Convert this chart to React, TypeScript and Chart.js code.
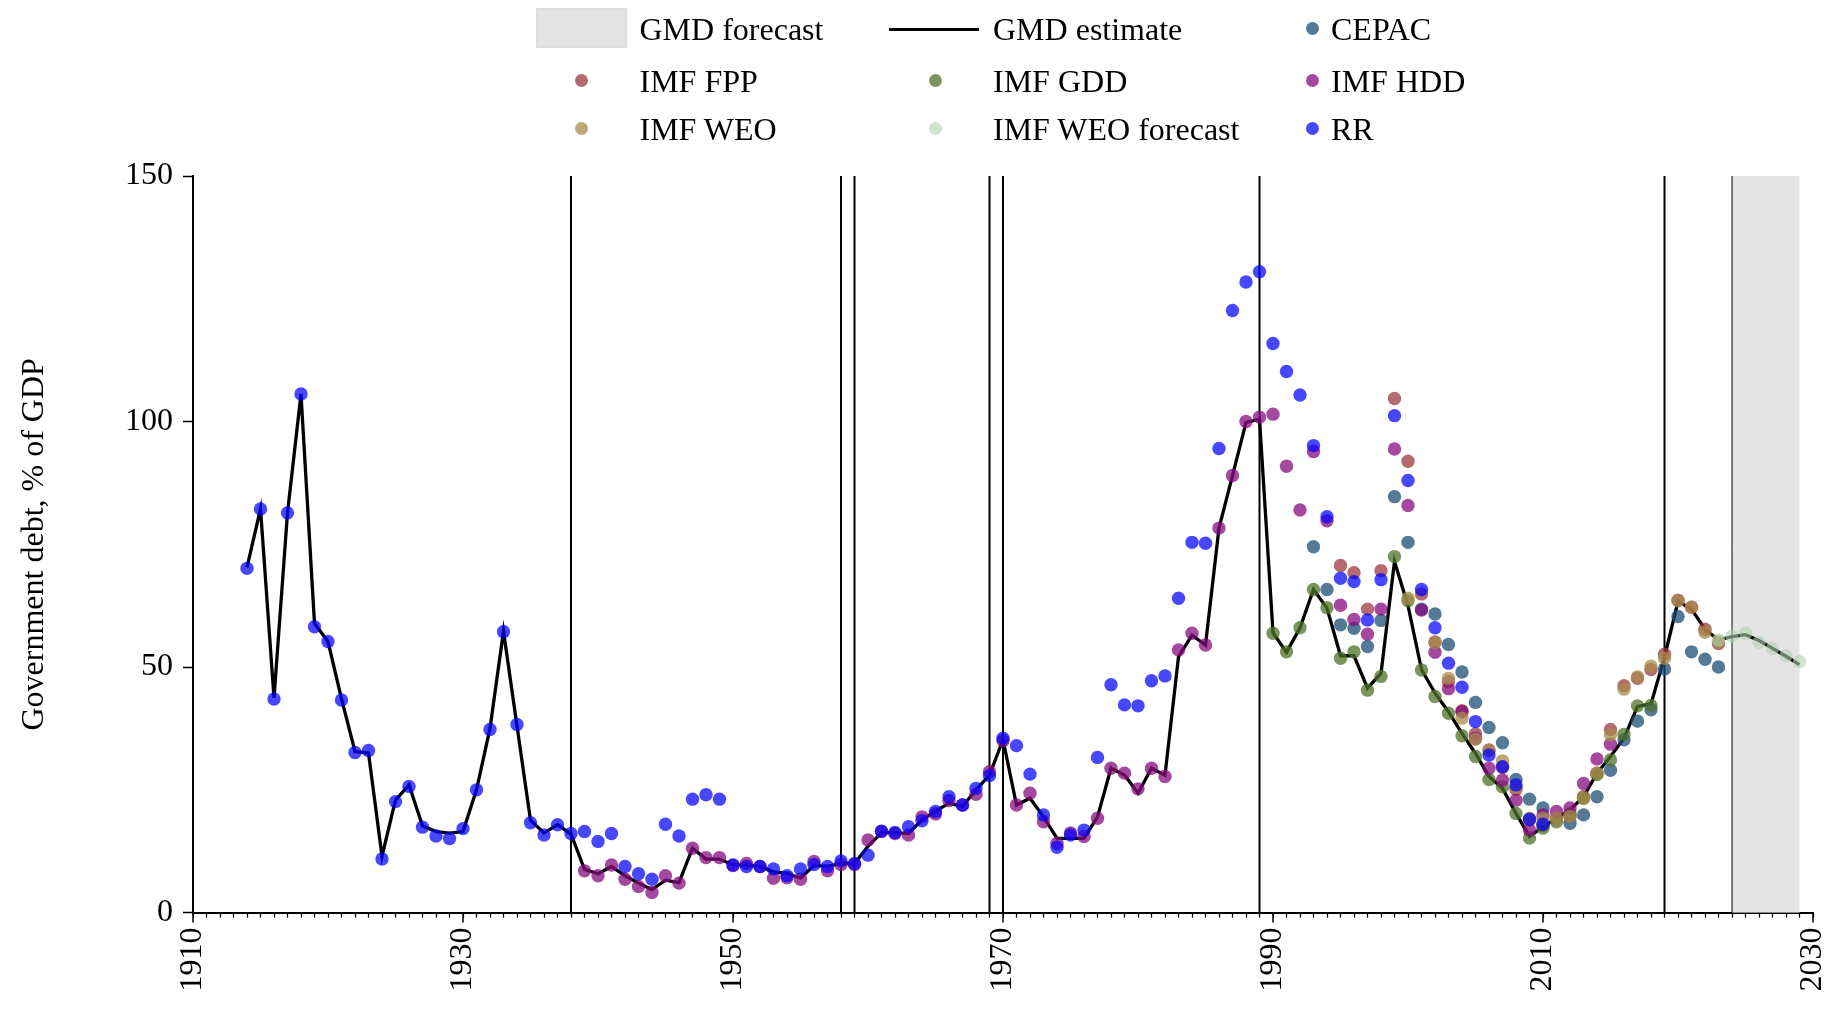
import React, { useEffect, useRef } from 'react';
import { Chart, registerables } from 'chart.js';

Chart.register(...registerables);

const FONT = "'Liberation Serif', 'Times New Roman', serif";

// GMD estimate (line), 1914-2029
const gmdStart = 1914;
const gmdValues = [
  70.3, 82.2, 43.7, 81.4, 105.6, 58.9, 55.2, 43.5, 32.8, 32.5,
  11.5, 22.9, 26.0, 17.7, 16.5, 16.2, 16.5, 25.0, 37.5, 57.3,
  38.0, 18.8, 16.2, 17.9, 16.0, 8.8, 7.9, 9.4, 7.5, 6.0,
  4.7, 6.6, 6.1, 13.1, 10.9, 10.9, 9.7, 9.7, 9.4, 8.3,
  8.0, 7.0, 9.6, 9.4, 10.0, 10.0, 13.5, 16.3, 16.3, 16.1,
  18.9, 20.6, 22.3, 21.6, 25.0, 28.0, 35.2, 21.9, 23.3, 19.5,
  15.1, 15.1, 15.1, 19.5, 29.4, 28.0, 24.3, 29.4, 28.0, 52.1,
  56.5, 54.5, 78.3, 89.0, 99.8, 100.5, 57.0, 53.0, 58.0, 65.8,
  62.0, 52.3, 52.3, 45.7, 48.7, 71.5, 62.5, 49.5, 44.7, 40.9,
  36.5, 32.4, 27.7, 25.3, 20.2, 15.5, 17.5, 19.2, 20.9, 23.6,
  28.4, 31.8, 35.5, 42.0, 42.5, 52.0, 63.4, 61.8, 57.7, 55.5,
  56.2, 56.6, 55.4, 53.8, 52.2, 50.5,
];

// CEPAC, 1993-2023
const cepacStart = 1993;
const cepacValues = [
  74.5, 65.8, 58.6, 57.9, 54.2, 59.5, 84.7, 75.4, 61.8, 60.8,
  54.6, 49.0, 42.8, 37.7, 34.6, 27.1, 23.1, 21.3, null, 18.2,
  19.9, 23.6, 29.0, 35.2, 39.0, 41.3, 49.6, 60.3, 53.1, 51.6, 50.0,
];

// IMF FPP, 1995-2023
const fppStart = 1995;
const fppValues = [
  70.7, 69.2, 61.8, 69.6, 104.7, 91.9, 64.9, 55.1, 47.0, 41.1,
  36.4, 33.1, 29.6, 25.1, 18.9, 17.8, 19.2, 19.6, 23.6, 28.4,
  37.3, 46.2, 47.7, 49.5, 52.6, 63.6, 62.2, 57.7, 54.8,
];

// IMF GDD, 1990-2018
const gddStart = 1990;
const gddValues = [
  56.9, 53.1, 58.0, 65.8, 62.1, 51.8, 53.1, 45.3, 48.1, 72.5,
  63.5, 49.4, 44.0, 40.6, 36.0, 31.8, 27.1, 25.6, 20.2, 15.2,
  17.2, 18.5, 20.2, 23.3, 28.1, 31.1, 36.3, 42.1, 42.2,
];

// IMF HDD, 1939-2015
const hddStart = 1939;
const hddValues = [
  8.5, 7.5, 9.7, 6.8, 5.3, 4.1, 7.5, 6.0, 13.1, 11.2,
  11.2, 9.6, 10.0, 9.4, 7.0, 7.1, 6.8, 10.4, 8.5, 9.8,
  9.8, 14.8, 16.5, 16.1, 15.8, 19.5, 20.1, 22.8, 21.9, 24.1,
  28.7, 35.0, 21.9, 24.3, 18.5, 14.1, 16.2, 15.5, 19.2, 29.4,
  28.4, 25.2, 29.4, 27.7, 53.5, 56.9, 54.5, 78.3, 89.0, 100.0,
  100.9, 101.5, 90.9, 82.0, 93.9, 79.8, 62.6, 59.7, 56.7, 61.8,
  94.4, 82.9, 61.6, 53.0, 45.6, 40.9, 35.5, 29.4, 27.0, 22.9,
  16.8, 19.9, 20.6, 21.3, 26.3, 31.3, 34.3,
];

// IMF WEO, 2000-2023
const weoStart = 2000;
const weoValues = [
  64.0, null, 55.0, 47.7, 39.6, 35.3, 33.0, 30.9, 25.5, 19.2,
  19.2, 19.2, 19.6, 23.3, 28.4, 36.2, 45.5, 48.0, 50.2, 51.8,
  63.5, 62.2, 57.1, 55.2,
];

// IMF WEO forecast, 2023-2029
const weoFcStart = 2023;
const weoFcValues = [55.5, 56.3, 56.9, 55.0, 53.8, 52.3, 51.1];

// RR, 1914-2010
const rrStart = 1914;
const rrValues = [
  70.1, 82.2, 43.5, 81.4, 105.6, 58.2, 55.2, 43.3, 32.6, 33.0,
  10.9, 22.6, 25.7, 17.4, 15.6, 15.1, 17.1, 25.0, 37.3, 57.2,
  38.3, 18.3, 15.8, 17.9, 16.1, 16.5, 14.5, 16.1, 9.4, 7.9,
  6.8, 18.0, 15.6, 23.1, 24.0, 23.1, 9.7, 9.4, 9.4, 8.9,
  7.5, 8.9, 9.8, 9.4, 10.5, 10.0, 11.7, 16.6, 16.3, 17.5,
  18.7, 20.6, 23.6, 21.9, 25.3, 27.9, 35.5, 34.0, 28.2, 19.9,
  13.3, 15.8, 16.8, 31.6, 46.4, 42.3, 42.1, 47.2, 48.2, 64.0,
  75.4, 75.2, 94.5, 122.6, 128.4, 130.5, 115.9, 110.2, 105.4, 95.1,
  80.6, 68.1, 67.4, 59.6, 67.8, 101.2, 88.0, 65.8, 58.0, 50.8,
  45.9, 38.9, 32.1, 29.7, 26.0, 19.0, 18.0,
];

// Vertical event lines and forecast shading
const eventYears = [1938, 1958, 1959, 1969, 1970, 1989, 2019];
const forecastRange = [2024, 2029];

// x tick labels every 20 years from 1910, y ticks every 50
const xMin = 1910;
const xMax = 2030;
const xLabelStep = 20;
const yMin = 0;
const yMax = 150;
const yStep = 50;

const COLORS = {
  cepac: 'rgba(28,78,118,0.75)',
  fpp: 'rgba(156,56,64,0.75)',
  gdd: 'rgba(78,114,40,0.75)',
  hdd: 'rgba(134,11,128,0.75)',
  weo: 'rgba(167,139,75,0.75)',
  weoFc: 'rgba(175,212,175,0.6)',
  rr: 'rgba(0,0,255,0.72)',
};

const toPoints = (start: number, vals: (number | null)[]) =>
  vals
    .map((v, i) => ({ x: start + i, y: v }))
    .filter((p) => p.y !== null) as { x: number; y: number }[];

const legendRows = [
  [
    { kind: 'box', label: 'GMD forecast' },
    { kind: 'line', label: 'GMD estimate' },
    { kind: 'dot', label: 'CEPAC', color: COLORS.cepac },
  ],
  [
    { kind: 'dot', label: 'IMF FPP', color: COLORS.fpp },
    { kind: 'dot', label: 'IMF GDD', color: COLORS.gdd },
    { kind: 'dot', label: 'IMF HDD', color: COLORS.hdd },
  ],
  [
    { kind: 'dot', label: 'IMF WEO', color: COLORS.weo },
    { kind: 'dot', label: 'IMF WEO forecast', color: COLORS.weoFc },
    { kind: 'dot', label: 'RR', color: COLORS.rr },
  ],
];

const rowCenters = [29.5, 81.5, 129];
const textX = [639.5, 993, 1331];
const dotX = [581.7, 935.3, 1312.4];

const bgPlugin = {
  id: 'bgPlugin',
  beforeDatasetsDraw(chart: any) {
    const { ctx, scales } = chart;
    const x = scales.x;
    const y = scales.y;
    const top = y.getPixelForValue(yMax);
    const bottom = y.getPixelForValue(yMin);
    ctx.save();
    const f0 = x.getPixelForValue(forecastRange[0]);
    const f1 = x.getPixelForValue(forecastRange[1]);
    ctx.fillStyle = '#e4e4e4';
    ctx.fillRect(f0, top, f1 - f0, bottom - top);
    ctx.strokeStyle = '#000';
    ctx.lineWidth = 1;
    ctx.beginPath();
    ctx.moveTo(f0, top);
    ctx.lineTo(f0, bottom);
    ctx.stroke();
    ctx.lineWidth = 2;
    for (const yr of eventYears) {
      const px = x.getPixelForValue(yr);
      ctx.beginPath();
      ctx.moveTo(px, top);
      ctx.lineTo(px, bottom);
      ctx.stroke();
    }
    ctx.restore();
  },
  afterDraw(chart: any) {
    const { ctx, scales } = chart;
    const x = scales.x;
    const bottom = x.top;
    ctx.save();
    ctx.strokeStyle = '#000';
    ctx.lineWidth = 1.5;
    for (let yr = xMin; yr <= xMax; yr += xLabelStep) {
      const px = x.getPixelForValue(yr);
      ctx.beginPath();
      ctx.moveTo(px, bottom);
      ctx.lineTo(px, bottom + 10);
      ctx.stroke();
    }
    ctx.restore();
  },
};

export default function App() {
  const canvasRef = useRef<HTMLCanvasElement | null>(null);

  useEffect(() => {
    document.body.style.margin = '0';
    const canvas = canvasRef.current;
    if (!canvas) return;
    const dot = (label: string, start: number, vals: (number | null)[], color: string, order: number) => ({
      type: 'scatter' as const,
      label,
      data: toPoints(start, vals),
      backgroundColor: color,
      borderWidth: 0,
      pointRadius: 6.7,
      pointHoverRadius: 6.7,
      order,
    });
    const chart = new Chart(canvas, {
      type: 'scatter',
      data: {
        datasets: [
          {
            type: 'line' as const,
            label: 'GMD estimate',
            data: toPoints(gmdStart, gmdValues),
            borderColor: '#000',
            borderWidth: 3.3,
            pointRadius: 0,
            tension: 0,
            fill: false,
            order: 10,
          } as any,
          dot('CEPAC', cepacStart, cepacValues, COLORS.cepac, 7),
          dot('IMF FPP', fppStart, fppValues, COLORS.fpp, 6),
          dot('IMF GDD', gddStart, gddValues, COLORS.gdd, 5),
          dot('IMF HDD', hddStart, hddValues, COLORS.hdd, 4),
          dot('IMF WEO', weoStart, weoValues, COLORS.weo, 3),
          dot('IMF WEO forecast', weoFcStart, weoFcValues, COLORS.weoFc, 2),
          dot('RR', rrStart, rrValues, COLORS.rr, 1),
        ],
      },
      options: {
        animation: false,
        responsive: false,
        devicePixelRatio: 1,
        layout: { padding: { left: 0, right: 24, top: 176, bottom: 0 } },
        plugins: {
          legend: { display: false },
          tooltip: { enabled: false },
        },
        scales: {
          x: {
            type: 'linear',
            min: xMin,
            max: xMax,
            afterFit: (s: any) => {
              s.height = 104.4;
              s.paddingLeft = 0;
              s.paddingRight = 24;
            },
            ticks: {
              stepSize: 1,
              autoSkip: false,
              minRotation: 90,
              maxRotation: 90,
              padding: 10,
              color: '#000',
              font: { size: 32, family: FONT },
              callback: (v: any) => ((Number(v) - xMin) % xLabelStep === 0 ? String(v) : ''),
            },
            grid: {
              drawOnChartArea: false,
              drawTicks: true,
              tickLength: 5,
              color: '#000',
              tickWidth: 1.2,
            },
            border: { display: true, color: '#000', width: 2 },
          },
          y: {
            type: 'linear',
            min: yMin,
            max: yMax,
            afterFit: (s: any) => {
              s.width = 193;
            },
            ticks: {
              stepSize: yStep,
              padding: 10,
              color: '#000',
              font: { size: 32, family: FONT },
            },
            grid: {
              drawOnChartArea: false,
              drawTicks: true,
              tickLength: 10,
              color: '#000',
              tickWidth: 1.5,
            },
            border: { display: true, color: '#000', width: 2 },
            title: {
              display: true,
              text: 'Government debt, % of GDP',
              color: '#000',
              font: { size: 32, family: FONT },
              padding: { top: 15, bottom: 0 },
            },
          },
        },
      } as any,
      plugins: [bgPlugin],
    });
    return () => chart.destroy();
  }, []);

  const textStyle = (left: number, center: number): React.CSSProperties => ({
    position: 'absolute',
    left,
    top: center - 16.2,
    fontFamily: FONT,
    fontSize: 32,
    lineHeight: '32px',
    whiteSpace: 'nowrap',
    color: '#000',
  });

  return (
    <div style={{ position: 'absolute', left: 0, top: 0, width: 1837, height: 1017, background: '#fff' }}>
      <canvas ref={canvasRef} width={1837} height={1017} style={{ position: 'absolute', left: 0, top: 0, width: 1837, height: 1017 }} />
      {legendRows.map((row, r) =>
        row.map((item: any, c) => {
          const cy = rowCenters[r];
          let marker: React.ReactNode = null;
          if (item.kind === 'box') {
            marker = (
              <div style={{ position: 'absolute', left: 536, top: 8, width: 91, height: 40, background: '#e4e4e4', boxSizing: 'border-box', border: '2px solid #dddddd' }} />
            );
          } else if (item.kind === 'line') {
            marker = <div style={{ position: 'absolute', left: 889, top: cy - 2, width: 90, height: 3.3, background: '#000' }} />;
          } else {
            marker = (
              <div style={{ position: 'absolute', left: dotX[c] - 6.5, top: cy - 1 - 6.5, width: 13, height: 13, borderRadius: '50%', background: item.color }} />
            );
          }
          return (
            <React.Fragment key={`${r}-${c}`}>
              {marker}
              <div style={textStyle(textX[c], cy)}>{item.label}</div>
            </React.Fragment>
          );
        })
      )}
    </div>
  );
}
